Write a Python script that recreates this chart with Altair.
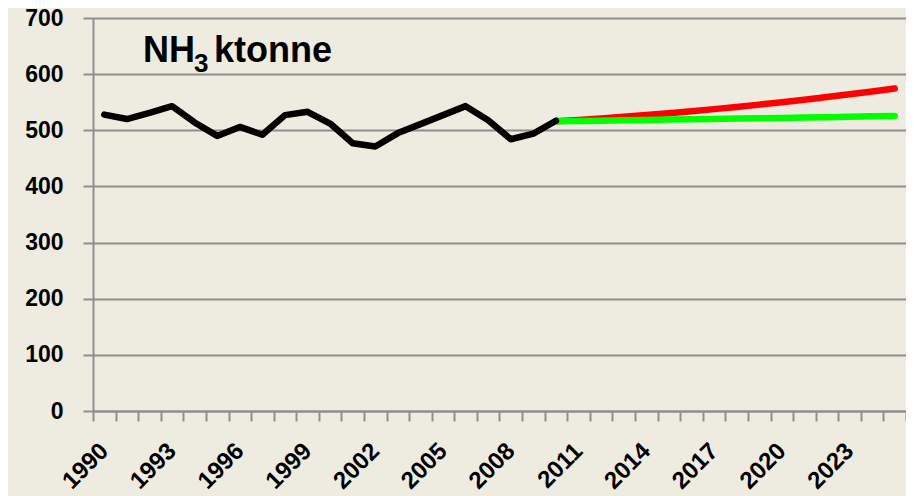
import altair as alt
import pandas as pd

years_hist = list(range(1990, 2011))
hist_values = [528, 520, 531, 543, 514, 490, 506, 492, 527, 533, 512, 477, 471, 495, 511, 527, 543, 518, 484, 494, 517]

years_proj = list(range(2010, 2026))
red_values = [516, 518.5, 521.2, 524.1, 527.2, 530.5, 534, 537.7, 541.6, 545.7, 550, 554.5, 559.2, 564.1, 569.2, 574.5]
green_values = [516, 516.6, 517.2, 517.8, 518.4, 519, 519.6, 520.2, 520.8, 521.4, 522, 522.7, 523.4, 524.1, 524.8, 525.5]

all_years = list(range(1990, 2026))

rows = []
for y, v in zip(years_hist, hist_values):
    rows.append({"year": y, "value": v, "series": "hist"})
for y, v in zip(years_proj, red_values):
    rows.append({"year": y, "value": v, "series": "red"})
for y, v in zip(years_proj, green_values):
    rows.append({"year": y, "value": v, "series": "green"})
df = pd.DataFrame(rows)

FONT = "Liberation Sans"
GRID = "#8e8e8e"

xenc = alt.X(
    "year:O",
    bandPosition=0.5,
    scale=alt.Scale(type="band", domain=all_years, paddingInner=0, paddingOuter=0),
    axis=alt.Axis(
        title=None,
        labelExpr="(toNumber(datum.value) - 1990) % 3 == 0 ? datum.value : ''",
        labelAngle=-45,
        labelAlign="right",
        labelBaseline="middle",
        labelFont=FONT,
        labelFontSize=24,
        labelFontWeight="bold",
        labelColor="black",
        labelPadding=26,
        labelOverlap=False,
        tickBand="extent",
        tickSize=10,
        tickColor=GRID,
        tickWidth=2,
        domainColor=GRID,
        domainWidth=2,
        grid=False,
    ),
)
yenc = alt.Y(
    "value:Q",
    scale=alt.Scale(domain=[0, 700], nice=False, zero=True),
    axis=alt.Axis(
        title=None,
        values=[0, 100, 200, 300, 400, 500, 600, 700],
        labelFont=FONT,
        labelFontSize=23,
        labelFontWeight="bold",
        labelColor="black",
        labelPadding=20,
        tickSize=10,
        tickColor=GRID,
        tickWidth=2,
        domainColor=GRID,
        domainWidth=2,
        grid=True,
        gridColor=GRID,
        gridWidth=2,
    ),
)

base = alt.Chart(df)

def line(series, color):
    return base.transform_filter(alt.datum.series == series).mark_line(
        color=color, strokeWidth=6.5, strokeCap="round", strokeJoin="round"
    ).encode(x=xenc, y=yenc)

red = line("red", "#ff0000")
green = line("green", "#00ff00")
black = line("hist", "#000000")

one = alt.Data(values=[{}])
TFONT = "Liberation Sans"
t1 = alt.Chart(one).mark_text(text="NH", font=TFONT, fontSize=36, fontWeight="bold", align="left", baseline="alphabetic", color="black").encode(x=alt.value(50), y=alt.value(44))
t2 = alt.Chart(one).mark_text(text="3", font=TFONT, fontSize=26, fontWeight="bold", align="left", baseline="alphabetic", color="black").encode(x=alt.value(101), y=alt.value(54))
t3 = alt.Chart(one).mark_text(text="ktonne", font=TFONT, fontSize=36, fontWeight="bold", align="left", baseline="alphabetic", color="black").encode(x=alt.value(121), y=alt.value(44))

chart = alt.layer(red, green, black, t1, t2, t3).properties(
    width=813,
    height=393,
    background="#EEECE1",
    autosize=alt.AutoSizeParams(type="none"),
    padding={"left": 85, "top": 10, "right": 0, "bottom": 86},
).configure_view(stroke=None)

chart.save("out.html", embed_options={"renderer": "svg", "actions": False})
